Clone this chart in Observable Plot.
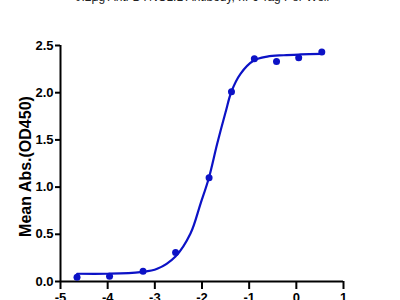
<!DOCTYPE html>
<html><head><meta charset="utf-8">
<script src="https://cdn.jsdelivr.net/npm/d3@7"></script>
<script src="https://cdn.jsdelivr.net/npm/@observablehq/plot@0.6"></script>
<style>
html,body{margin:0;padding:0;background:#fff;overflow:hidden;}
</style></head>
<body><div id="chart"></div>
<script>
const title = "0.2μg Anti-DYNC1I1 Antibody, hFc Tag Per Well";
const yLabel = "Mean Abs.(OD450)";
// measured points: log concentration and mean OD450
const pointX = [-4.65, -3.96, -3.25, -2.56, -1.85, -1.375, -0.89, -0.42, 0.05, 0.54];
const pointY = [0.046, 0.056, 0.109, 0.307, 1.10, 2.01, 2.36, 2.33, 2.37, 2.43];
// fitted curve
const curveX = [-4.646, -4.01, -3.304, -2.95, -2.562, -2.244, -2.032, -1.856, -1.678, -1.502, -1.375, -1.184, -0.902, -0.618, -0.266, 0.088, 0.533];
const curveY = [0.082, 0.082, 0.099, 0.134, 0.265, 0.508, 0.823, 1.094, 1.459, 1.79, 2.013, 2.2, 2.341, 2.383, 2.397, 2.405, 2.412];
const xTicks = [-5, -4, -3, -2, -1, 0, 1];
const yTicks = [0, 0.5, 1.0, 1.5, 2.0, 2.5];

const points = pointX.map((x, i) => ({x, y: pointY[i]}));
const curve = curveX.map((x, i) => ({x, y: curveY[i]}));
const blue = "#0c12c6";
const fmtX = d => d < 0 ? "-" + Math.abs(d) : String(d);

const chart = Plot.plot({
  width: 400, height: 300,
  marginLeft: 60, marginRight: 57, marginTop: 45, marginBottom: 19,
  style: {fontFamily: "Liberation Sans, Arial, sans-serif", fontSize: "13px", fontWeight: "bold", color: "#000", background: "#fff", overflow: "visible"},
  x: {domain: [-5, 1], label: null},
  y: {domain: [0, 2.5], label: null},
  marks: [
    Plot.axisX({ticks: xTicks, tickSize: 8, tickPadding: 3, tickFormat: fmtX, label: null, strokeWidth: 2, fontSize: 13, fontWeight: "bold"}),
    Plot.axisY({ticks: yTicks, tickSize: 5, tickPadding: 2, tickFormat: d => d.toFixed(1), label: null, strokeWidth: 2, fontSize: 13, fontWeight: "bold"}),
    Plot.ruleX([-5], {stroke: "#000", strokeWidth: 2}),
    Plot.ruleY([0], {stroke: "#000", strokeWidth: 2}),
    Plot.line(curve, {x: "x", y: "y", stroke: blue, strokeWidth: 2.2, curve: "catmull-rom"}),
    Plot.dot(points, {x: "x", y: "y", r: 3.5, fill: blue, stroke: "none"}),
    Plot.text([title], {frameAnchor: "top", textAnchor: "middle", dy: -45, lineAnchor: "bottom", text: d => d, fontSize: 12, fontWeight: "normal", fill: "#222"}),
    Plot.text([yLabel], {frameAnchor: "left", textAnchor: "middle", dx: -35, dy: 3, rotate: -90, text: d => d, fontSize: 16, fontWeight: "bold", fill: "#000"})
  ]
});
document.getElementById("chart").appendChild(chart);
</script>
</body></html>
